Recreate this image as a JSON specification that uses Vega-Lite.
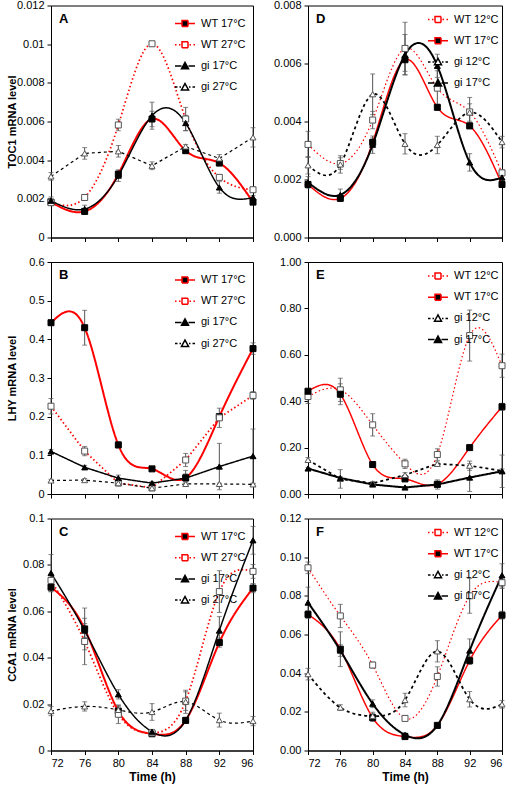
{
"$schema": "https://vega.github.io/schema/vega-lite/v6.json",
"padding": {"left": 5, "top": -1.5, "right": 0, "bottom": 0},
"data": {"values": [
{"p":"A","s":"WT 17°C","t":72,"v":0.00183,"e":0.0001},{"p":"A","s":"WT 17°C","t":76,"v":0.00135,"e":0.0001},{"p":"A","s":"WT 17°C","t":80,"v":0.00328,"e":0.00015},{"p":"A","s":"WT 17°C","t":84,"v":0.00613,"e":0.0004},{"p":"A","s":"WT 17°C","t":88,"v":0.00449,"e":0.0001},{"p":"A","s":"WT 17°C","t":92,"v":0.00385,"e":0.0001},{"p":"A","s":"WT 17°C","t":96,"v":0.00183,"e":0.0001},
{"p":"A","s":"WT 27°C","t":72,"v":0.0018,"e":0.0001},{"p":"A","s":"WT 27°C","t":76,"v":0.00207,"e":0.0001},{"p":"A","s":"WT 27°C","t":80,"v":0.00582,"e":0.0003},{"p":"A","s":"WT 27°C","t":84,"v":0.01002,"e":0.0001},{"p":"A","s":"WT 27°C","t":88,"v":0.00613,"e":0.0006},{"p":"A","s":"WT 27°C","t":92,"v":0.00311,"e":0.0001},{"p":"A","s":"WT 27°C","t":96,"v":0.00247,"e":0.0001},
{"p":"A","s":"gi 17°C","t":72,"v":0.0019,"e":0.0002},{"p":"A","s":"gi 17°C","t":76,"v":0.00147,"e":0.0002},{"p":"A","s":"gi 17°C","t":80,"v":0.0032,"e":0.0003},{"p":"A","s":"gi 17°C","t":84,"v":0.0063,"e":0.0007},{"p":"A","s":"gi 17°C","t":88,"v":0.00592,"e":0.0004},{"p":"A","s":"gi 17°C","t":92,"v":0.00259,"e":0.0003},{"p":"A","s":"gi 17°C","t":96,"v":0.00207,"e":0.0001},
{"p":"A","s":"gi 27°C","t":72,"v":0.00316,"e":0.0002},{"p":"A","s":"gi 27°C","t":76,"v":0.00435,"e":0.0003},{"p":"A","s":"gi 27°C","t":80,"v":0.00446,"e":0.0003},{"p":"A","s":"gi 27°C","t":84,"v":0.00371,"e":0.0002},{"p":"A","s":"gi 27°C","t":88,"v":0.00471,"e":0.0001},{"p":"A","s":"gi 27°C","t":92,"v":0.00409,"e":0.0002},{"p":"A","s":"gi 27°C","t":96,"v":0.00518,"e":0.0005},
{"p":"D","s":"WT 12°C","t":72,"v":0.00321,"e":0.00045},{"p":"D","s":"WT 12°C","t":76,"v":0.00255,"e":0.0002},{"p":"D","s":"WT 12°C","t":80,"v":0.00405,"e":0.0003},{"p":"D","s":"WT 12°C","t":84,"v":0.00652,"e":0.0009},{"p":"D","s":"WT 12°C","t":88,"v":0.00515,"e":0.0006},{"p":"D","s":"WT 12°C","t":92,"v":0.00433,"e":0.0005},{"p":"D","s":"WT 12°C","t":96,"v":0.00223,"e":0.0001},
{"p":"D","s":"WT 17°C","t":72,"v":0.00183,"e":0.0001},{"p":"D","s":"WT 17°C","t":76,"v":0.00135,"e":0.0001},{"p":"D","s":"WT 17°C","t":80,"v":0.00328,"e":0.00015},{"p":"D","s":"WT 17°C","t":84,"v":0.00613,"e":0.0004},{"p":"D","s":"WT 17°C","t":88,"v":0.00449,"e":0.0001},{"p":"D","s":"WT 17°C","t":92,"v":0.00385,"e":0.0001},{"p":"D","s":"WT 17°C","t":96,"v":0.00183,"e":0.0001},
{"p":"D","s":"gi 12°C","t":72,"v":0.00249,"e":0.0003},{"p":"D","s":"gi 12°C","t":76,"v":0.00252,"e":0.0003},{"p":"D","s":"gi 12°C","t":80,"v":0.00494,"e":0.0007},{"p":"D","s":"gi 12°C","t":84,"v":0.00323,"e":0.00035},{"p":"D","s":"gi 12°C","t":88,"v":0.00319,"e":0.0003},{"p":"D","s":"gi 12°C","t":92,"v":0.00431,"e":0.0003},{"p":"D","s":"gi 12°C","t":96,"v":0.00329,"e":0.0002},
{"p":"D","s":"gi 17°C","t":72,"v":0.0019,"e":0.0002},{"p":"D","s":"gi 17°C","t":76,"v":0.00147,"e":0.0002},{"p":"D","s":"gi 17°C","t":80,"v":0.0032,"e":0.0003},{"p":"D","s":"gi 17°C","t":84,"v":0.0063,"e":0.0007},{"p":"D","s":"gi 17°C","t":88,"v":0.00592,"e":0.0004},{"p":"D","s":"gi 17°C","t":92,"v":0.00259,"e":0.0003},{"p":"D","s":"gi 17°C","t":96,"v":0.00207,"e":0.0001},
{"p":"B","s":"WT 17°C","t":72,"v":0.443,"e":0.005},{"p":"B","s":"WT 17°C","t":76,"v":0.43,"e":0.045},{"p":"B","s":"WT 17°C","t":80,"v":0.127,"e":0.008},{"p":"B","s":"WT 17°C","t":84,"v":0.065,"e":0.004},{"p":"B","s":"WT 17°C","t":88,"v":0.042,"e":0.01},{"p":"B","s":"WT 17°C","t":92,"v":0.2,"e":0.005},{"p":"B","s":"WT 17°C","t":96,"v":0.376,"e":0.015},
{"p":"B","s":"WT 27°C","t":72,"v":0.227,"e":0.02},{"p":"B","s":"WT 27°C","t":76,"v":0.111,"e":0.012},{"p":"B","s":"WT 27°C","t":80,"v":0.0285,"e":0.005},{"p":"B","s":"WT 27°C","t":84,"v":0.016,"e":0.004},{"p":"B","s":"WT 27°C","t":88,"v":0.088,"e":0.017},{"p":"B","s":"WT 27°C","t":92,"v":0.197,"e":0.025},{"p":"B","s":"WT 27°C","t":96,"v":0.255,"e":0.01},
{"p":"B","s":"gi 17°C","t":72,"v":0.11,"e":0.005},{"p":"B","s":"gi 17°C","t":76,"v":0.069,"e":0.005},{"p":"B","s":"gi 17°C","t":80,"v":0.041,"e":0.008},{"p":"B","s":"gi 17°C","t":84,"v":0.028,"e":0.004},{"p":"B","s":"gi 17°C","t":88,"v":0.041,"e":0.02},{"p":"B","s":"gi 17°C","t":92,"v":0.071,"e":0.06},{"p":"B","s":"gi 17°C","t":96,"v":0.098,"e":0.07},
{"p":"B","s":"gi 27°C","t":72,"v":0.035,"e":0.003},{"p":"B","s":"gi 27°C","t":76,"v":0.036,"e":0.004},{"p":"B","s":"gi 27°C","t":80,"v":0.028,"e":0.003},{"p":"B","s":"gi 27°C","t":84,"v":0.015,"e":0.003},{"p":"B","s":"gi 27°C","t":88,"v":0.026,"e":0.003},{"p":"B","s":"gi 27°C","t":92,"v":0.026,"e":0.002},{"p":"B","s":"gi 27°C","t":96,"v":0.025,"e":0.002},
{"p":"E","s":"WT 12°C","t":72,"v":0.42,"e":0.03},{"p":"E","s":"WT 12°C","t":76,"v":0.449,"e":0.05},{"p":"E","s":"WT 12°C","t":80,"v":0.298,"e":0.048},{"p":"E","s":"WT 12°C","t":84,"v":0.13,"e":0.02},{"p":"E","s":"WT 12°C","t":88,"v":0.17,"e":0.025},{"p":"E","s":"WT 12°C","t":92,"v":0.683,"e":0.11},{"p":"E","s":"WT 12°C","t":96,"v":0.553,"e":0.05},
{"p":"E","s":"WT 17°C","t":72,"v":0.443,"e":0.005},{"p":"E","s":"WT 17°C","t":76,"v":0.43,"e":0.045},{"p":"E","s":"WT 17°C","t":80,"v":0.127,"e":0.008},{"p":"E","s":"WT 17°C","t":84,"v":0.065,"e":0.004},{"p":"E","s":"WT 17°C","t":88,"v":0.042,"e":0.01},{"p":"E","s":"WT 17°C","t":92,"v":0.2,"e":0.005},{"p":"E","s":"WT 17°C","t":96,"v":0.376,"e":0.015},
{"p":"E","s":"gi 12°C","t":72,"v":0.147,"e":0.01},{"p":"E","s":"gi 12°C","t":76,"v":0.065,"e":0.04},{"p":"E","s":"gi 12°C","t":80,"v":0.046,"e":0.008},{"p":"E","s":"gi 12°C","t":84,"v":0.082,"e":0.01},{"p":"E","s":"gi 12°C","t":88,"v":0.13,"e":0.008},{"p":"E","s":"gi 12°C","t":92,"v":0.122,"e":0.02},{"p":"E","s":"gi 12°C","t":96,"v":0.1,"e":0.008},
{"p":"E","s":"gi 17°C","t":72,"v":0.11,"e":0.005},{"p":"E","s":"gi 17°C","t":76,"v":0.069,"e":0.005},{"p":"E","s":"gi 17°C","t":80,"v":0.041,"e":0.008},{"p":"E","s":"gi 17°C","t":84,"v":0.028,"e":0.004},{"p":"E","s":"gi 17°C","t":88,"v":0.041,"e":0.02},{"p":"E","s":"gi 17°C","t":92,"v":0.071,"e":0.06},{"p":"E","s":"gi 17°C","t":96,"v":0.098,"e":0.07},
{"p":"C","s":"WT 17°C","t":72,"v":0.0704,"e":0.002},{"p":"C","s":"WT 17°C","t":76,"v":0.0524,"e":0.009},{"p":"C","s":"WT 17°C","t":80,"v":0.017,"e":0.002},{"p":"C","s":"WT 17°C","t":84,"v":0.0072,"e":0.001},{"p":"C","s":"WT 17°C","t":88,"v":0.013,"e":0.001},{"p":"C","s":"WT 17°C","t":92,"v":0.0465,"e":0.002},{"p":"C","s":"WT 17°C","t":96,"v":0.07,"e":0.002},
{"p":"C","s":"WT 27°C","t":72,"v":0.0733,"e":0.002},{"p":"C","s":"WT 27°C","t":76,"v":0.047,"e":0.01},{"p":"C","s":"WT 27°C","t":80,"v":0.0156,"e":0.004},{"p":"C","s":"WT 27°C","t":84,"v":0.0076,"e":0.001},{"p":"C","s":"WT 27°C","t":88,"v":0.0213,"e":0.004},{"p":"C","s":"WT 27°C","t":92,"v":0.0685,"e":0.009},{"p":"C","s":"WT 27°C","t":96,"v":0.0772,"e":0.003},
{"p":"C","s":"gi 17°C","t":72,"v":0.0765,"e":0.008},{"p":"C","s":"gi 17°C","t":76,"v":0.0517,"e":0.003},{"p":"C","s":"gi 17°C","t":80,"v":0.0242,"e":0.002},{"p":"C","s":"gi 17°C","t":84,"v":0.0081,"e":0.001},{"p":"C","s":"gi 17°C","t":88,"v":0.013,"e":0.001},{"p":"C","s":"gi 17°C","t":92,"v":0.0517,"e":0.006},{"p":"C","s":"gi 17°C","t":96,"v":0.0906,"e":0.006},
{"p":"C","s":"gi 27°C","t":72,"v":0.017,"e":0.002},{"p":"C","s":"gi 27°C","t":76,"v":0.019,"e":0.002},{"p":"C","s":"gi 27°C","t":80,"v":0.0175,"e":0.002},{"p":"C","s":"gi 27°C","t":84,"v":0.0166,"e":0.0036},{"p":"C","s":"gi 27°C","t":88,"v":0.021,"e":0.005},{"p":"C","s":"gi 27°C","t":92,"v":0.0131,"e":0.003},{"p":"C","s":"gi 27°C","t":96,"v":0.0127,"e":0.002},
{"p":"F","s":"WT 12°C","t":72,"v":0.0945,"e":0.003},{"p":"F","s":"WT 12°C","t":76,"v":0.0696,"e":0.006},{"p":"F","s":"WT 12°C","t":80,"v":0.0442,"e":0.0015},{"p":"F","s":"WT 12°C","t":84,"v":0.0166,"e":0.001},{"p":"F","s":"WT 12°C","t":88,"v":0.0383,"e":0.005},{"p":"F","s":"WT 12°C","t":92,"v":0.08,"e":0.009},{"p":"F","s":"WT 12°C","t":96,"v":0.0868,"e":0.003},
{"p":"F","s":"WT 17°C","t":72,"v":0.0704,"e":0.002},{"p":"F","s":"WT 17°C","t":76,"v":0.0524,"e":0.009},{"p":"F","s":"WT 17°C","t":80,"v":0.017,"e":0.002},{"p":"F","s":"WT 17°C","t":84,"v":0.0072,"e":0.001},{"p":"F","s":"WT 17°C","t":88,"v":0.013,"e":0.001},{"p":"F","s":"WT 17°C","t":92,"v":0.0465,"e":0.002},{"p":"F","s":"WT 17°C","t":96,"v":0.07,"e":0.002},
{"p":"F","s":"gi 12°C","t":72,"v":0.0395,"e":0.003},{"p":"F","s":"gi 12°C","t":76,"v":0.0222,"e":0.0015},{"p":"F","s":"gi 12°C","t":80,"v":0.0178,"e":0.002},{"p":"F","s":"gi 12°C","t":84,"v":0.0261,"e":0.0035},{"p":"F","s":"gi 12°C","t":88,"v":0.0513,"e":0.0055},{"p":"F","s":"gi 12°C","t":92,"v":0.0265,"e":0.004},{"p":"F","s":"gi 12°C","t":96,"v":0.0239,"e":0.002},
{"p":"F","s":"gi 17°C","t":72,"v":0.0765,"e":0.008},{"p":"F","s":"gi 17°C","t":76,"v":0.0517,"e":0.003},{"p":"F","s":"gi 17°C","t":80,"v":0.0242,"e":0.002},{"p":"F","s":"gi 17°C","t":84,"v":0.0081,"e":0.001},{"p":"F","s":"gi 17°C","t":88,"v":0.013,"e":0.001},{"p":"F","s":"gi 17°C","t":92,"v":0.0517,"e":0.006},{"p":"F","s":"gi 17°C","t":96,"v":0.0906,"e":0.006}
]},
"columns": 2,
"spacing": {"row": 24.5, "column": 55},
"bounds": "flush",
"resolve": {"scale": {"color": "independent", "strokeDash": "independent", "strokeWidth": "independent", "shape": "independent", "fill": "independent", "stroke": "independent"}},
"concat": [
{
 "width": 202, "height": 232,
 "transform": [{"filter": "datum.p == 'A'"}],
 "encoding": {
  "x": {"field": "t", "type": "quantitative", "scale": {"domain": [72, 96], "nice": false, "zero": false}, "axis": {"values": [72,76,80,84,88,92,96], "labels": false, "title": null}},
  "y": {"field": "v", "type": "quantitative", "scale": {"domain": [0, 0.012], "nice": false}, "axis": {"values": [0,0.002,0.004,0.006,0.008,0.01,0.012], "format": ".3~f", "title": "TOC1 mRNA level", "minExtent": 30, "maxExtent": 30}}
 },
 "layer": [
  {"transform": [{"filter": "datum.e > 0"}], "mark": {"type": "errorbar", "ticks": {"size": 5}, "color": "#555", "thickness": 1}, "encoding": {"yError": {"field": "e"}}},
  {"transform": [{"filter": "datum.s != 'gi 27°C'"}], "mark": {"type": "line", "interpolate": "natural"},
   "encoding": {
    "color": {"field": "s", "type": "nominal", "scale": {"domain": ["WT 17°C","WT 27°C","gi 17°C","gi 27°C"], "range": ["#ff0000","#ff0000","#000000","#000000"]},
      "legend": {"orient": "top-right", "offset": 7, "title": null, "padding": 0, "rowPadding": 4.2, "symbolSize": 400, "labelOffset": 5, "labelFontSize": 11, "labelColor": "black", "values": ["WT 17°C","WT 27°C","gi 17°C","gi 27°C"],
        "encode": {"symbols": {"update": {
          "shape": {"signal": "datum.value == 'WT 17°C' ? 'M-1,0H-0.3M0.3,0H1M-0.3,-0.3H0.3V0.3H-0.3Z' : (datum.value == 'WT 27°C' || datum.value == 'WT 12°C') ? 'M-1,0H-0.85M-0.6,0H-0.45M0.45,0H0.6M0.85,0H1M-0.3,-0.3H0.3V0.3H-0.3Z' : datum.value == 'gi 17°C' ? 'M-1,0H-0.35M0.35,0H1M0,-0.35L0.35,0.28H-0.35Z' : 'M-1,0H-0.75M-0.55,0H-0.4M0.4,0H0.55M0.75,0H1M0,-0.35L0.35,0.28H-0.35Z'"},
          "fill": {"signal": "(datum.value == 'WT 17°C' || datum.value == 'gi 17°C') ? 'black' : 'white'"},
          "stroke": {"signal": "(datum.value == 'WT 17°C' || datum.value == 'WT 27°C' || datum.value == 'WT 12°C') ? '#ff0000' : 'black'"},
          "strokeWidth": {"value": 1.5}, "strokeDash": {"value": [1,0]}, "opacity": {"value": 1}, "size": {"value": 400}}}}}},
    "strokeDash": {"field": "s", "type": "nominal", "scale": {"domain": ["gi 27°C","gi 17°C","WT 27°C","WT 17°C"], "range": [[3,3],[1,0],[1.5,2.5],[1,0]]}, "legend": null},
    "strokeWidth": {"field": "s", "type": "nominal", "scale": {"domain": ["gi 27°C","gi 17°C","WT 27°C","WT 17°C"], "range": [1.2,2,1.5,2]}, "legend": null}
   }},
  {"transform": [{"filter": "datum.s == 'gi 27°C'"}], "mark": {"type": "line", "interpolate": "linear"},
   "encoding": {
    "color": {"field": "s", "type": "nominal", "scale": {"domain": ["WT 17°C","WT 27°C","gi 17°C","gi 27°C"], "range": ["#ff0000","#ff0000","#000000","#000000"]}, "legend": null},
    "strokeDash": {"field": "s", "type": "nominal", "scale": {"domain": ["gi 27°C","gi 17°C","WT 27°C","WT 17°C"], "range": [[3,3],[1,0],[1.5,2.5],[1,0]]}, "legend": null},
    "strokeWidth": {"field": "s", "type": "nominal", "scale": {"domain": ["gi 27°C","gi 17°C","WT 27°C","WT 17°C"], "range": [1.2,2,1.5,2]}, "legend": null}
   }},
  {"mark": {"type": "point", "size": 36, "strokeWidth": 1, "opacity": 1},
   "encoding": {
    "shape": {"field": "s", "type": "nominal", "scale": {"domain": ["gi 27°C","gi 17°C","WT 27°C","WT 17°C"], "range": ["triangle-up","triangle-up","square","square"]}, "legend": null},
    "fill": {"field": "s", "type": "nominal", "scale": {"domain": ["gi 27°C","gi 17°C","WT 27°C","WT 17°C"], "range": ["white","black","white","black"]}, "legend": null},
    "stroke": {"field": "s", "type": "nominal", "scale": {"domain": ["gi 27°C","gi 17°C","WT 27°C","WT 17°C"], "range": ["#555","black","#555","black"]}, "legend": null}
   }},
  {"transform": [{"filter": "datum.t == 72 && datum.s == 'WT 17°C'"}], "mark": {"type": "text", "align": "left", "baseline": "top", "dx": 8, "dy": 7, "fontSize": 13, "fontWeight": "bold", "color": "black"},
   "encoding": {"y": {"datum": 0.012}, "text": {"field": "p"}}}
 ]
},
{
 "width": 194, "height": 232,
 "transform": [{"filter": "datum.p == 'D'"}],
 "encoding": {
  "x": {"field": "t", "type": "quantitative", "scale": {"domain": [72, 96], "nice": false, "zero": false}, "axis": {"values": [72,76,80,84,88,92,96], "labels": false, "title": null}},
  "y": {"field": "v", "type": "quantitative", "scale": {"domain": [0, 0.008], "nice": false}, "axis": {"values": [0,0.002,0.004,0.006,0.008], "format": ".3f", "title": null}}
 },
 "layer": [
  {"transform": [{"filter": "datum.e > 0"}], "mark": {"type": "errorbar", "ticks": {"size": 5}, "color": "#555", "thickness": 1}, "encoding": {"yError": {"field": "e"}}},
  {"mark": {"type": "line", "interpolate": "natural"},
   "encoding": {
    "color": {"field": "s", "type": "nominal", "scale": {"domain": ["WT 12°C","WT 17°C","gi 12°C","gi 17°C"], "range": ["#ff0000","#ff0000","#000000","#000000"]},
      "legend": {"orient": "top-right", "offset": 3, "title": null, "padding": 0, "rowPadding": 4.2, "symbolSize": 400, "labelOffset": 5, "labelFontSize": 11, "labelColor": "black", "values": ["WT 12°C","WT 17°C","gi 12°C","gi 17°C"],
        "encode": {"symbols": {"update": {
          "shape": {"signal": "datum.value == 'WT 17°C' ? 'M-1,0H-0.3M0.3,0H1M-0.3,-0.3H0.3V0.3H-0.3Z' : (datum.value == 'WT 27°C' || datum.value == 'WT 12°C') ? 'M-1,0H-0.85M-0.6,0H-0.45M0.45,0H0.6M0.85,0H1M-0.3,-0.3H0.3V0.3H-0.3Z' : datum.value == 'gi 17°C' ? 'M-1,0H-0.35M0.35,0H1M0,-0.35L0.35,0.28H-0.35Z' : 'M-1,0H-0.75M-0.55,0H-0.4M0.4,0H0.55M0.75,0H1M0,-0.35L0.35,0.28H-0.35Z'"},
          "fill": {"signal": "(datum.value == 'WT 17°C' || datum.value == 'gi 17°C') ? 'black' : 'white'"},
          "stroke": {"signal": "(datum.value == 'WT 17°C' || datum.value == 'WT 27°C' || datum.value == 'WT 12°C') ? '#ff0000' : 'black'"},
          "strokeWidth": {"value": 1.5}, "strokeDash": {"value": [1,0]}, "opacity": {"value": 1}, "size": {"value": 400}}}}}},
    "strokeDash": {"field": "s", "type": "nominal", "scale": {"domain": ["gi 17°C","gi 12°C","WT 17°C","WT 12°C"], "range": [[1,0],[3,3],[1,0],[1.5,2.5]]}, "legend": null},
    "strokeWidth": {"field": "s", "type": "nominal", "scale": {"domain": ["gi 17°C","gi 12°C","WT 17°C","WT 12°C"], "range": [2,1.2,2,1.5]}, "legend": null}
   }},
  {"mark": {"type": "point", "size": 36, "strokeWidth": 1, "opacity": 1},
   "encoding": {
    "shape": {"field": "s", "type": "nominal", "scale": {"domain": ["gi 17°C","gi 12°C","WT 17°C","WT 12°C"], "range": ["triangle-up","triangle-up","square","square"]}, "legend": null},
    "fill": {"field": "s", "type": "nominal", "scale": {"domain": ["gi 17°C","gi 12°C","WT 17°C","WT 12°C"], "range": ["black","white","black","white"]}, "legend": null},
    "stroke": {"field": "s", "type": "nominal", "scale": {"domain": ["gi 17°C","gi 12°C","WT 17°C","WT 12°C"], "range": ["black","#555","black","#555"]}, "legend": null}
   }},
  {"transform": [{"filter": "datum.t == 72 && datum.s == 'WT 17°C'"}], "mark": {"type": "text", "align": "left", "baseline": "top", "dx": 8, "dy": 7, "fontSize": 13, "fontWeight": "bold", "color": "black"},
   "encoding": {"y": {"datum": 0.008}, "text": {"field": "p"}}}
 ]
},
{
 "width": 202, "height": 232,
 "transform": [{"filter": "datum.p == 'B'"}],
 "encoding": {
  "x": {"field": "t", "type": "quantitative", "scale": {"domain": [72, 96], "nice": false, "zero": false}, "axis": {"values": [72,76,80,84,88,92,96], "labels": false, "title": null}},
  "y": {"field": "v", "type": "quantitative", "scale": {"domain": [0, 0.6], "nice": false}, "axis": {"values": [0,0.1,0.2,0.3,0.4,0.5,0.6], "format": ".1~f", "title": "LHY mRNA level", "minExtent": 30, "maxExtent": 30}}
 },
 "layer": [
  {"transform": [{"filter": "datum.e > 0"}], "mark": {"type": "errorbar", "ticks": {"size": 5}, "color": "#555", "thickness": 1}, "encoding": {"yError": {"field": "e"}}},
  {"transform": [{"filter": "datum.s == 'WT 17°C'"}], "mark": {"type": "line", "interpolate": "natural"},
   "encoding": {
    "color": {"field": "s", "type": "nominal", "scale": {"domain": ["WT 17°C","WT 27°C","gi 17°C","gi 27°C"], "range": ["#ff0000","#ff0000","#000000","#000000"]},
      "legend": {"orient": "top-right", "offset": 7, "title": null, "padding": 0, "rowPadding": 4.2, "symbolSize": 400, "labelOffset": 5, "labelFontSize": 11, "labelColor": "black", "values": ["WT 17°C","WT 27°C","gi 17°C","gi 27°C"],
        "encode": {"symbols": {"update": {
          "shape": {"signal": "datum.value == 'WT 17°C' ? 'M-1,0H-0.3M0.3,0H1M-0.3,-0.3H0.3V0.3H-0.3Z' : (datum.value == 'WT 27°C' || datum.value == 'WT 12°C') ? 'M-1,0H-0.85M-0.6,0H-0.45M0.45,0H0.6M0.85,0H1M-0.3,-0.3H0.3V0.3H-0.3Z' : datum.value == 'gi 17°C' ? 'M-1,0H-0.35M0.35,0H1M0,-0.35L0.35,0.28H-0.35Z' : 'M-1,0H-0.75M-0.55,0H-0.4M0.4,0H0.55M0.75,0H1M0,-0.35L0.35,0.28H-0.35Z'"},
          "fill": {"signal": "(datum.value == 'WT 17°C' || datum.value == 'gi 17°C') ? 'black' : 'white'"},
          "stroke": {"signal": "(datum.value == 'WT 17°C' || datum.value == 'WT 27°C' || datum.value == 'WT 12°C') ? '#ff0000' : 'black'"},
          "strokeWidth": {"value": 1.5}, "strokeDash": {"value": [1,0]}, "opacity": {"value": 1}, "size": {"value": 400}}}}}},
    "strokeDash": {"field": "s", "type": "nominal", "scale": {"domain": ["gi 27°C","gi 17°C","WT 27°C","WT 17°C"], "range": [[3,3],[1,0],[1.5,2.5],[1,0]]}, "legend": null},
    "strokeWidth": {"field": "s", "type": "nominal", "scale": {"domain": ["gi 27°C","gi 17°C","WT 27°C","WT 17°C"], "range": [1.2,2,1.5,2]}, "legend": null}
   }},
  {"transform": [{"filter": "datum.s != 'WT 17°C'"}], "mark": {"type": "line", "interpolate": "linear"},
   "encoding": {
    "color": {"field": "s", "type": "nominal", "scale": {"domain": ["WT 17°C","WT 27°C","gi 17°C","gi 27°C"], "range": ["#ff0000","#ff0000","#000000","#000000"]}, "legend": null},
    "strokeDash": {"field": "s", "type": "nominal", "scale": {"domain": ["gi 27°C","gi 17°C","WT 27°C","WT 17°C"], "range": [[3,3],[1,0],[1.5,2.5],[1,0]]}, "legend": null},
    "strokeWidth": {"field": "s", "type": "nominal", "scale": {"domain": ["gi 27°C","gi 17°C","WT 27°C","WT 17°C"], "range": [1.2,2,1.5,2]}, "legend": null}
   }},
  {"mark": {"type": "point", "size": 36, "strokeWidth": 1, "opacity": 1},
   "encoding": {
    "shape": {"field": "s", "type": "nominal", "scale": {"domain": ["gi 27°C","gi 17°C","WT 27°C","WT 17°C"], "range": ["triangle-up","triangle-up","square","square"]}, "legend": null},
    "fill": {"field": "s", "type": "nominal", "scale": {"domain": ["gi 27°C","gi 17°C","WT 27°C","WT 17°C"], "range": ["white","black","white","black"]}, "legend": null},
    "stroke": {"field": "s", "type": "nominal", "scale": {"domain": ["gi 27°C","gi 17°C","WT 27°C","WT 17°C"], "range": ["#555","black","#555","black"]}, "legend": null}
   }},
  {"transform": [{"filter": "datum.t == 72 && datum.s == 'WT 17°C'"}], "mark": {"type": "text", "align": "left", "baseline": "top", "dx": 8, "dy": 7, "fontSize": 13, "fontWeight": "bold", "color": "black"},
   "encoding": {"y": {"datum": 0.6}, "text": {"field": "p"}}}
 ]
},
{
 "width": 194, "height": 232,
 "transform": [{"filter": "datum.p == 'E'"}],
 "encoding": {
  "x": {"field": "t", "type": "quantitative", "scale": {"domain": [72, 96], "nice": false, "zero": false}, "axis": {"values": [72,76,80,84,88,92,96], "labels": false, "title": null}},
  "y": {"field": "v", "type": "quantitative", "scale": {"domain": [0, 1], "nice": false}, "axis": {"values": [0,0.2,0.4,0.6,0.8,1], "format": ".2f", "title": null}}
 },
 "layer": [
  {"transform": [{"filter": "datum.e > 0"}], "mark": {"type": "errorbar", "ticks": {"size": 5}, "color": "#555", "thickness": 1}, "encoding": {"yError": {"field": "e"}}},
  {"transform": [{"filter": "datum.s == 'WT 12°C' || datum.s == 'WT 17°C'"}], "mark": {"type": "line", "interpolate": "natural"},
   "encoding": {
    "color": {"field": "s", "type": "nominal", "scale": {"domain": ["WT 12°C","WT 17°C","gi 12°C","gi 17°C"], "range": ["#ff0000","#ff0000","#000000","#000000"]},
      "legend": {"orient": "top-right", "offset": 3, "title": null, "padding": 0, "rowPadding": 4.2, "symbolSize": 400, "labelOffset": 5, "labelFontSize": 11, "labelColor": "black", "values": ["WT 12°C","WT 17°C","gi 12°C","gi 17°C"],
        "encode": {"symbols": {"update": {
          "shape": {"signal": "datum.value == 'WT 17°C' ? 'M-1,0H-0.3M0.3,0H1M-0.3,-0.3H0.3V0.3H-0.3Z' : (datum.value == 'WT 27°C' || datum.value == 'WT 12°C') ? 'M-1,0H-0.85M-0.6,0H-0.45M0.45,0H0.6M0.85,0H1M-0.3,-0.3H0.3V0.3H-0.3Z' : datum.value == 'gi 17°C' ? 'M-1,0H-0.35M0.35,0H1M0,-0.35L0.35,0.28H-0.35Z' : 'M-1,0H-0.75M-0.55,0H-0.4M0.4,0H0.55M0.75,0H1M0,-0.35L0.35,0.28H-0.35Z'"},
          "fill": {"signal": "(datum.value == 'WT 17°C' || datum.value == 'gi 17°C') ? 'black' : 'white'"},
          "stroke": {"signal": "(datum.value == 'WT 17°C' || datum.value == 'WT 27°C' || datum.value == 'WT 12°C') ? '#ff0000' : 'black'"},
          "strokeWidth": {"value": 1.5}, "strokeDash": {"value": [1,0]}, "opacity": {"value": 1}, "size": {"value": 400}}}}}},
    "strokeDash": {"field": "s", "type": "nominal", "scale": {"domain": ["gi 17°C","gi 12°C","WT 17°C","WT 12°C"], "range": [[1,0],[3,3],[1,0],[1.5,2.5]]}, "legend": null},
    "strokeWidth": {"field": "s", "type": "nominal", "scale": {"domain": ["gi 17°C","gi 12°C","WT 17°C","WT 12°C"], "range": [2,1.2,2,1.5]}, "legend": null}
   }},
  {"transform": [{"filter": "datum.s == 'gi 12°C' || datum.s == 'gi 17°C'"}], "mark": {"type": "line", "interpolate": "linear"},
   "encoding": {
    "color": {"field": "s", "type": "nominal", "scale": {"domain": ["WT 12°C","WT 17°C","gi 12°C","gi 17°C"], "range": ["#ff0000","#ff0000","#000000","#000000"]}, "legend": null},
    "strokeDash": {"field": "s", "type": "nominal", "scale": {"domain": ["gi 17°C","gi 12°C","WT 17°C","WT 12°C"], "range": [[1,0],[3,3],[1,0],[1.5,2.5]]}, "legend": null},
    "strokeWidth": {"field": "s", "type": "nominal", "scale": {"domain": ["gi 17°C","gi 12°C","WT 17°C","WT 12°C"], "range": [2,1.2,2,1.5]}, "legend": null}
   }},
  {"mark": {"type": "point", "size": 36, "strokeWidth": 1, "opacity": 1},
   "encoding": {
    "shape": {"field": "s", "type": "nominal", "scale": {"domain": ["gi 17°C","gi 12°C","WT 17°C","WT 12°C"], "range": ["triangle-up","triangle-up","square","square"]}, "legend": null},
    "fill": {"field": "s", "type": "nominal", "scale": {"domain": ["gi 17°C","gi 12°C","WT 17°C","WT 12°C"], "range": ["black","white","black","white"]}, "legend": null},
    "stroke": {"field": "s", "type": "nominal", "scale": {"domain": ["gi 17°C","gi 12°C","WT 17°C","WT 12°C"], "range": ["black","#555","black","#555"]}, "legend": null}
   }},
  {"transform": [{"filter": "datum.t == 72 && datum.s == 'WT 17°C'"}], "mark": {"type": "text", "align": "left", "baseline": "top", "dx": 8, "dy": 7, "fontSize": 13, "fontWeight": "bold", "color": "black"},
   "encoding": {"y": {"datum": 1}, "text": {"field": "p"}}}
 ]
},
{
 "width": 202, "height": 232,
 "transform": [{"filter": "datum.p == 'C'"}],
 "encoding": {
  "x": {"field": "t", "type": "quantitative", "scale": {"domain": [72, 96], "nice": false, "zero": false}, "axis": {"values": [72,76,80,84,88,92,96], "title": "Time (h)"}},
  "y": {"field": "v", "type": "quantitative", "scale": {"domain": [0, 0.1], "nice": false}, "axis": {"values": [0,0.02,0.04,0.06,0.08,0.1], "format": ".2~f", "title": "CCA1 mRNA level", "minExtent": 30, "maxExtent": 30}}
 },
 "layer": [
  {"transform": [{"filter": "datum.e > 0"}], "mark": {"type": "errorbar", "ticks": {"size": 5}, "color": "#555", "thickness": 1}, "encoding": {"yError": {"field": "e"}}},
  {"mark": {"type": "line", "interpolate": "natural"},
   "encoding": {
    "color": {"field": "s", "type": "nominal", "scale": {"domain": ["WT 17°C","WT 27°C","gi 17°C","gi 27°C"], "range": ["#ff0000","#ff0000","#000000","#000000"]},
      "legend": {"orient": "top-right", "offset": 7, "title": null, "padding": 0, "rowPadding": 4.2, "symbolSize": 400, "labelOffset": 5, "labelFontSize": 11, "labelColor": "black", "values": ["WT 17°C","WT 27°C","gi 17°C","gi 27°C"],
        "encode": {"symbols": {"update": {
          "shape": {"signal": "datum.value == 'WT 17°C' ? 'M-1,0H-0.3M0.3,0H1M-0.3,-0.3H0.3V0.3H-0.3Z' : (datum.value == 'WT 27°C' || datum.value == 'WT 12°C') ? 'M-1,0H-0.85M-0.6,0H-0.45M0.45,0H0.6M0.85,0H1M-0.3,-0.3H0.3V0.3H-0.3Z' : datum.value == 'gi 17°C' ? 'M-1,0H-0.35M0.35,0H1M0,-0.35L0.35,0.28H-0.35Z' : 'M-1,0H-0.75M-0.55,0H-0.4M0.4,0H0.55M0.75,0H1M0,-0.35L0.35,0.28H-0.35Z'"},
          "fill": {"signal": "(datum.value == 'WT 17°C' || datum.value == 'gi 17°C') ? 'black' : 'white'"},
          "stroke": {"signal": "(datum.value == 'WT 17°C' || datum.value == 'WT 27°C' || datum.value == 'WT 12°C') ? '#ff0000' : 'black'"},
          "strokeWidth": {"value": 1.5}, "strokeDash": {"value": [1,0]}, "opacity": {"value": 1}, "size": {"value": 400}}}}}},
    "strokeDash": {"field": "s", "type": "nominal", "scale": {"domain": ["gi 27°C","gi 17°C","WT 27°C","WT 17°C"], "range": [[3,3],[1,0],[1.5,2.5],[1,0]]}, "legend": null},
    "strokeWidth": {"field": "s", "type": "nominal", "scale": {"domain": ["gi 27°C","gi 17°C","WT 27°C","WT 17°C"], "range": [1.2,2,1.5,2]}, "legend": null}
   }},
  {"mark": {"type": "point", "size": 36, "strokeWidth": 1, "opacity": 1},
   "encoding": {
    "shape": {"field": "s", "type": "nominal", "scale": {"domain": ["gi 27°C","gi 17°C","WT 27°C","WT 17°C"], "range": ["triangle-up","triangle-up","square","square"]}, "legend": null},
    "fill": {"field": "s", "type": "nominal", "scale": {"domain": ["gi 27°C","gi 17°C","WT 27°C","WT 17°C"], "range": ["white","black","white","black"]}, "legend": null},
    "stroke": {"field": "s", "type": "nominal", "scale": {"domain": ["gi 27°C","gi 17°C","WT 27°C","WT 17°C"], "range": ["#555","black","#555","black"]}, "legend": null}
   }},
  {"transform": [{"filter": "datum.t == 72 && datum.s == 'WT 17°C'"}], "mark": {"type": "text", "align": "left", "baseline": "top", "dx": 8, "dy": 7, "fontSize": 13, "fontWeight": "bold", "color": "black"},
   "encoding": {"y": {"datum": 0.1}, "text": {"field": "p"}}}
 ]
},
{
 "width": 194, "height": 232,
 "transform": [{"filter": "datum.p == 'F'"}],
 "encoding": {
  "x": {"field": "t", "type": "quantitative", "scale": {"domain": [72, 96], "nice": false, "zero": false}, "axis": {"values": [72,76,80,84,88,92,96], "title": "Time (h)"}},
  "y": {"field": "v", "type": "quantitative", "scale": {"domain": [0, 0.12], "nice": false}, "axis": {"values": [0,0.02,0.04,0.06,0.08,0.1,0.12], "format": ".2f", "title": null}}
 },
 "layer": [
  {"transform": [{"filter": "datum.e > 0"}], "mark": {"type": "errorbar", "ticks": {"size": 5}, "color": "#555", "thickness": 1}, "encoding": {"yError": {"field": "e"}}},
  {"mark": {"type": "line", "interpolate": "natural"},
   "encoding": {
    "color": {"field": "s", "type": "nominal", "scale": {"domain": ["WT 12°C","WT 17°C","gi 12°C","gi 17°C"], "range": ["#ff0000","#ff0000","#000000","#000000"]},
      "legend": {"orient": "top-right", "offset": 3, "title": null, "padding": 0, "rowPadding": 4.2, "symbolSize": 400, "labelOffset": 5, "labelFontSize": 11, "labelColor": "black", "values": ["WT 12°C","WT 17°C","gi 12°C","gi 17°C"],
        "encode": {"symbols": {"update": {
          "shape": {"signal": "datum.value == 'WT 17°C' ? 'M-1,0H-0.3M0.3,0H1M-0.3,-0.3H0.3V0.3H-0.3Z' : (datum.value == 'WT 27°C' || datum.value == 'WT 12°C') ? 'M-1,0H-0.85M-0.6,0H-0.45M0.45,0H0.6M0.85,0H1M-0.3,-0.3H0.3V0.3H-0.3Z' : datum.value == 'gi 17°C' ? 'M-1,0H-0.35M0.35,0H1M0,-0.35L0.35,0.28H-0.35Z' : 'M-1,0H-0.75M-0.55,0H-0.4M0.4,0H0.55M0.75,0H1M0,-0.35L0.35,0.28H-0.35Z'"},
          "fill": {"signal": "(datum.value == 'WT 17°C' || datum.value == 'gi 17°C') ? 'black' : 'white'"},
          "stroke": {"signal": "(datum.value == 'WT 17°C' || datum.value == 'WT 27°C' || datum.value == 'WT 12°C') ? '#ff0000' : 'black'"},
          "strokeWidth": {"value": 1.5}, "strokeDash": {"value": [1,0]}, "opacity": {"value": 1}, "size": {"value": 400}}}}}},
    "strokeDash": {"field": "s", "type": "nominal", "scale": {"domain": ["gi 17°C","gi 12°C","WT 17°C","WT 12°C"], "range": [[1,0],[3,3],[1,0],[1.5,2.5]]}, "legend": null},
    "strokeWidth": {"field": "s", "type": "nominal", "scale": {"domain": ["gi 17°C","gi 12°C","WT 17°C","WT 12°C"], "range": [2,1.2,2,1.5]}, "legend": null}
   }},
  {"mark": {"type": "point", "size": 36, "strokeWidth": 1, "opacity": 1},
   "encoding": {
    "shape": {"field": "s", "type": "nominal", "scale": {"domain": ["gi 17°C","gi 12°C","WT 17°C","WT 12°C"], "range": ["triangle-up","triangle-up","square","square"]}, "legend": null},
    "fill": {"field": "s", "type": "nominal", "scale": {"domain": ["gi 17°C","gi 12°C","WT 17°C","WT 12°C"], "range": ["black","white","black","white"]}, "legend": null},
    "stroke": {"field": "s", "type": "nominal", "scale": {"domain": ["gi 17°C","gi 12°C","WT 17°C","WT 12°C"], "range": ["black","#555","black","#555"]}, "legend": null}
   }},
  {"transform": [{"filter": "datum.t == 72 && datum.s == 'WT 17°C'"}], "mark": {"type": "text", "align": "left", "baseline": "top", "dx": 8, "dy": 7, "fontSize": 13, "fontWeight": "bold", "color": "black"},
   "encoding": {"y": {"datum": 0.12}, "text": {"field": "p"}}}
 ]
}
],
"config": {
 "font": "Liberation Sans",
 "view": {"stroke": "black", "strokeWidth": 1},
 "axis": {"grid": false, "domainColor": "black", "domainWidth": 1, "tickColor": "black", "tickSize": 4, "tickWidth": 1, "labelColor": "black", "labelFontSize": 11, "labelFont": "Liberation Sans", "titleColor": "black", "titleFont": "Liberation Sans", "titleFontWeight": "bold"},
 "axisX": {"labelPadding": 3, "titleFontSize": 12, "titlePadding": 3},
 "axisY": {"labelPadding": 3, "titleFontSize": 11, "titlePadding": 4},
 "legend": {"labelFont": "Liberation Sans"}
}
}
